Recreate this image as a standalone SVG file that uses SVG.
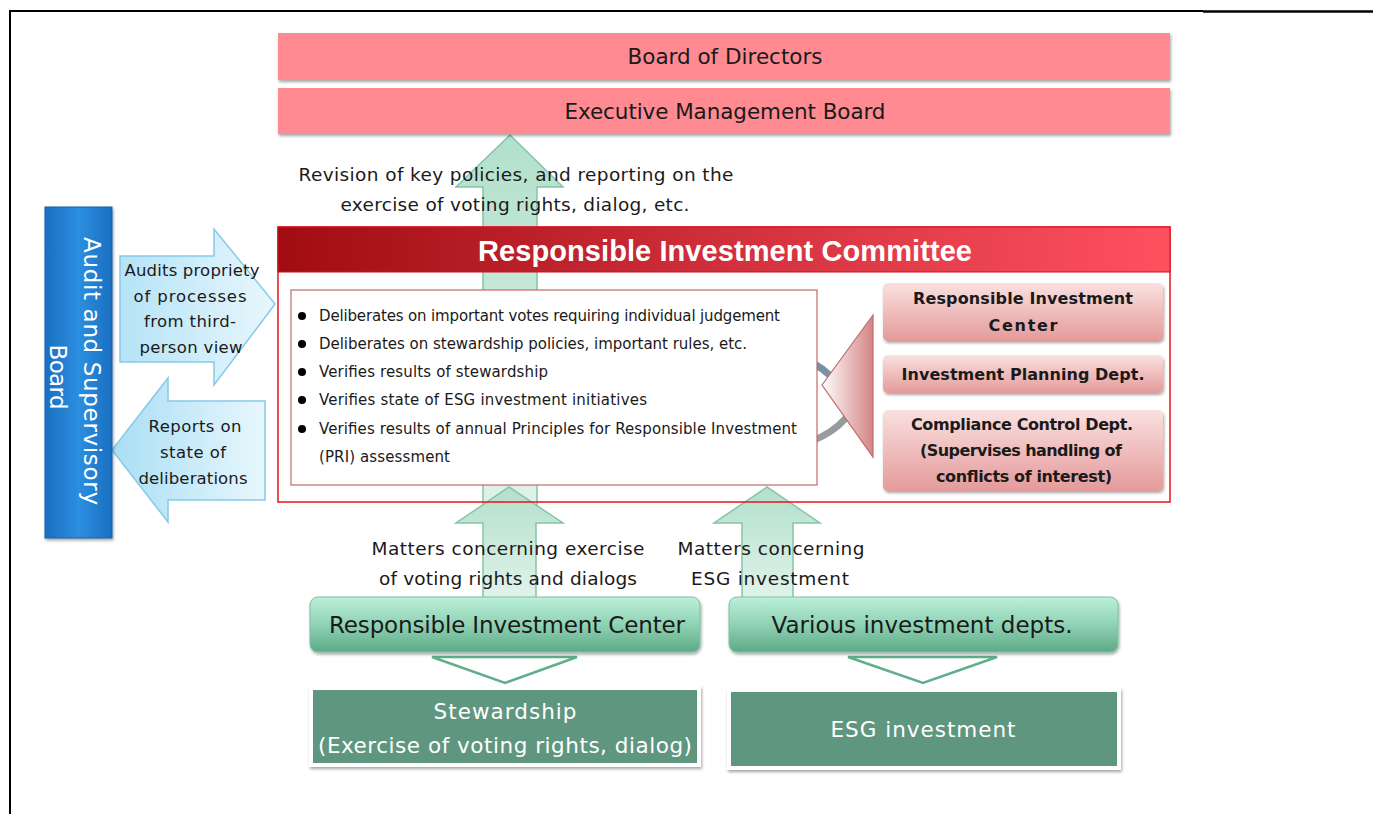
<svg xmlns="http://www.w3.org/2000/svg" width="1373" height="814" viewBox="0 0 1373 814">
<style>
text{font-family:"DejaVu Sans","Liberation Sans",sans-serif;fill:#1a1a1a}
.t18{font-size:18.5px}
.t16{font-size:16.5px}
.t15{font-size:15px}
.tb{font-size:16px;font-weight:bold}
.w{fill:#fff}
.c{text-anchor:middle}
.pinkbar{fill:#ff8a92;filter:url(#sh)}
.pbox{fill:url(#pg);filter:url(#sh)}
.gbox{fill:url(#gg);stroke:#7cc0a3;stroke-width:1;filter:url(#sh)}
.dbox{fill:#5e9680;stroke:#fff;stroke-width:4;filter:url(#sh)}
.garrow{fill:url(#ga);stroke:#86c3a8;stroke-width:1.5}
.barrow{stroke:#86c9e8;stroke-width:1.5}
.hollow{fill:#fff;stroke:#5fae8c;stroke-width:2.5}
</style>
<defs>
<filter id="sh" x="-5%" y="-10%" width="110%" height="130%">
<feDropShadow dx="1" dy="2" stdDeviation="1.5" flood-color="#000" flood-opacity="0.35"/>
</filter>
<linearGradient id="hdr" x1="0" y1="0" x2="1" y2="0">
<stop offset="0" stop-color="#a10c12"/>
<stop offset="0.5" stop-color="#d0303c"/>
<stop offset="1" stop-color="#ff5060"/>
</linearGradient>
<linearGradient id="pg" x1="0" y1="0" x2="0" y2="1">
<stop offset="0" stop-color="#fbe0e0"/>
<stop offset="1" stop-color="#e49a9a"/>
</linearGradient>
<linearGradient id="gg" x1="0" y1="0" x2="0" y2="1">
<stop offset="0" stop-color="#bdf0da"/>
<stop offset="0.5" stop-color="#8fd2b4"/>
<stop offset="1" stop-color="#5da987"/>
</linearGradient>
<linearGradient id="ga" x1="0" y1="0" x2="0" y2="1">
<stop offset="0" stop-color="#b2e0cc"/>
<stop offset="1" stop-color="#e2f3eb"/>
</linearGradient>
<linearGradient id="tri" x1="0" y1="0" x2="1" y2="0">
<stop offset="0" stop-color="#ffffff"/>
<stop offset="1" stop-color="#d48484"/>
</linearGradient>
<linearGradient id="bl" x1="0" y1="0" x2="1" y2="0">
<stop offset="0" stop-color="#1a6fc0"/>
<stop offset="0.5" stop-color="#2d8ee0"/>
<stop offset="1" stop-color="#1a6fc0"/>
</linearGradient>
<linearGradient id="ba" x1="0" y1="0" x2="1" y2="0">
<stop offset="0" stop-color="#b5e3f7"/>
<stop offset="1" stop-color="#e8f7fd"/>
</linearGradient>
<linearGradient id="ba2" x1="0" y1="0" x2="1" y2="0">
<stop offset="0" stop-color="#a9def5"/>
<stop offset="1" stop-color="#e8f7fd"/>
</linearGradient>
<linearGradient id="arcg" gradientUnits="userSpaceOnUse" x1="0" y1="360" x2="0" y2="445">
<stop offset="0" stop-color="#6f8fa3"/>
<stop offset="0.4" stop-color="#8a9aa2"/>
<stop offset="1" stop-color="#9c9c9c"/>
</linearGradient>
</defs>

<g id="frame">
<path d="M10 814 V11 H1203" fill="none" stroke="#000" stroke-width="2"/>
<line x1="1203" y1="11.5" x2="1373" y2="11.5" stroke="#000" stroke-width="2.5"/>
</g>

<g id="connectors">
<path class="garrow" d="M483 523 V187 H456 L510 135 L563 187 H537 V523 Z"/>
<path class="garrow" d="M483 600 V523 H456 L509 487 L563 523 H536 V600 Z"/>
<path class="garrow" d="M742 600 V523 H714 L767 487 L820 523 H793 V600 Z"/>
<path class="barrow" fill="url(#ba)" d="M120 256 H214 V229 L275 304 L214 385 V362 H120 Z"/>
<path class="barrow" fill="url(#ba2)" d="M265 401 H168 V378 L112 450 L168 522 V500 H265 Z"/>
<path class="hollow" d="M432 657 H577 L505 683 Z"/>
<path class="hollow" d="M848 657 H997 L923 683 Z"/>
</g>

<g id="board">
<rect class="pinkbar" x="278" y="33" width="892" height="47"/>
<text class="c" x="725" y="64" style="font-size:21.5px" textLength="195">Board of Directors</text>
</g>
<g id="exec">
<rect class="pinkbar" x="278" y="88" width="892" height="46"/>
<text class="c" x="725" y="119" style="font-size:21.5px" textLength="321">Executive Management Board</text>
</g>

<g id="revision-label">
<text class="c t18" x="516" y="181" textLength="435">Revision of key policies, and reporting on the</text>
<text class="c t18" x="515" y="211" textLength="349">exercise of voting rights, dialog, etc.</text>
</g>

<g id="committee">
<rect x="278" y="227" width="892" height="275" fill="none" stroke="#e8141e" stroke-width="1.5"/>
<rect x="278" y="227" width="892" height="45" fill="url(#hdr)" stroke="#d0101a" stroke-width="1"/>
<text class="c w" x="725" y="261" style="font-family:'Liberation Sans',Arial,sans-serif;font-size:29px;font-weight:bold" textLength="494">Responsible Investment Committee</text>
</g>

<g id="cycle-arc">
<path d="M800 356 C 830 370, 862 400, 845 419 C 837 428, 827 435, 812 441" fill="none" stroke="url(#arcg)" stroke-width="7"/>
</g>

<g id="duties">
<rect x="291" y="290" width="526" height="195" fill="#fff" stroke="#c06a6a" stroke-width="1.2"/>
<g fill="#000">
<circle cx="302" cy="316" r="4"/>
<circle cx="302" cy="344" r="4"/>
<circle cx="302" cy="372" r="4"/>
<circle cx="302" cy="400" r="4"/>
<circle cx="302" cy="429" r="4"/>
</g>
<text class="t15" x="319" y="321" textLength="461">Deliberates on important votes requiring individual judgement</text>
<text class="t15" x="319" y="349" textLength="428">Deliberates on stewardship policies, important rules, etc.</text>
<text class="t15" x="319" y="377" textLength="229">Verifies results of stewardship</text>
<text class="t15" x="319" y="405" textLength="328">Verifies state of ESG investment initiatives</text>
<text class="t15" x="319" y="434" textLength="478">Verifies results of annual Principles for Responsible Investment</text>
<text class="t15" x="319" y="462" textLength="131">(PRI) assessment</text>
</g>

<g id="triangle">
<path d="M822 385 L873 315 V457 Z" fill="url(#tri)" stroke="#c06a6a" stroke-width="1.2"/>
</g>

<g id="ric-member">
<rect class="pbox" x="883" y="283" width="280" height="58" rx="5"/>
<text class="c tb" x="1023" y="304" textLength="220">Responsible Investment</text>
<text class="c tb" x="1023" y="331" textLength="69">Center</text>
</g>
<g id="ipd">
<rect class="pbox" x="883" y="355" width="280" height="38" rx="5"/>
<text class="c tb" x="1023" y="380" textLength="243">Investment Planning Dept.</text>
</g>
<g id="ccd">
<rect class="pbox" x="883" y="410" width="280" height="81" rx="5"/>
<text class="c tb" x="1022" y="430" textLength="222">Compliance Control Dept.</text>
<text class="c tb" x="1021" y="456" textLength="202">(Supervises handling of</text>
<text class="c tb" x="1024" y="482" textLength="176">conflicts of interest)</text>
</g>

<g id="audit-board">
<rect x="45" y="207" width="67" height="331" fill="url(#bl)" stroke="#1560a8" stroke-width="1" filter="url(#sh)"/>
<text class="c w" transform="translate(84,371) rotate(90)" style="font-size:23px" textLength="268">Audit and Supervisory</text>
<text class="c w" transform="translate(50,377) rotate(90)" style="font-size:23px" textLength="65">Board</text>
</g>

<g id="audit-label">
<text class="c t16" x="192" y="276" textLength="135">Audits propriety</text>
<text class="c t16" x="190" y="302" textLength="113">of processes</text>
<text class="c t16" x="190" y="327" textLength="92">from third-</text>
<text class="c t16" x="191" y="353" textLength="103">person view</text>
</g>
<g id="report-label">
<text class="c t16" x="195" y="432" textLength="93">Reports on</text>
<text class="c t16" x="193" y="458" textLength="66">state of</text>
<text class="c t16" x="193" y="484" textLength="109">deliberations</text>
</g>

<g id="matters-labels">
<text class="c t18" x="508" y="555" textLength="273">Matters concerning exercise</text>
<text class="c t18" x="508" y="585" textLength="258">of voting rights and dialogs</text>
<text class="c t18" x="771" y="555" textLength="187">Matters concerning</text>
<text class="c t18" x="770" y="585" textLength="158">ESG investment</text>
</g>

<g id="ric">
<rect class="gbox" x="310" y="597" width="390" height="55" rx="8"/>
<text class="c" x="507" y="633" style="font-size:23px" textLength="356">Responsible Investment Center</text>
</g>
<g id="various">
<rect class="gbox" x="729" y="597" width="389" height="55" rx="8"/>
<text class="c" x="922" y="633" style="font-size:23px" textLength="301">Various investment  depts.</text>
</g>

<g id="stewardship">
<rect class="dbox" x="311" y="688" width="388" height="77"/>
<text class="c w" x="505" y="719" style="font-size:21.5px" textLength="143">Stewardship</text>
<text class="c w" x="505" y="753" style="font-size:21.5px" textLength="374">(Exercise of voting rights, dialog)</text>
</g>
<g id="esg">
<rect class="dbox" x="729" y="690" width="390" height="78"/>
<text class="c w" x="923" y="737" style="font-size:21.5px" textLength="185">ESG investment</text>
</g>
</svg>
